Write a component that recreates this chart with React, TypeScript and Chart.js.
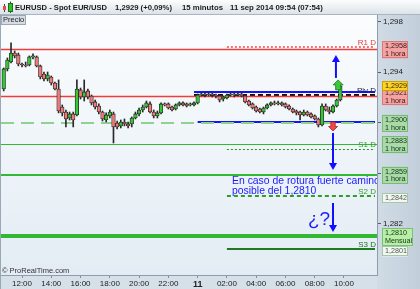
import React, { useEffect, useRef } from 'react';
import { Chart, registerables } from 'chart.js';

Chart.register(...registerables);

const FONT = '"Liberation Sans", Arial, sans-serif';

// ---- time axis (hours counted from 10 sep 00:00) ----
const FIRST_CANDLE_HOUR = 10.75; // 10 sep 10:45, 15-minute candles
const CANDLE_STEP_HOURS = 0.25;
const X_MIN = 10.565;
const X_MAX = 36.255;
const xTickHours = [12, 14, 16, 18, 20, 22, 24, 26, 28, 30, 32, 34];

// ---- price axis ----
const Y_MIN = 1.27795;
const Y_MAX = 1.29853;
const yTickValues = [1.282, 1.286, 1.29, 1.294, 1.298];

// ---- EUR/USD 15-minute candles ----
const opens = [
  1.29267, 1.29426, 1.29481, 1.29552, 1.29537, 1.29465, 1.29457, 1.29457, 1.29521, 1.29521,
  1.2945, 1.29386, 1.29347, 1.29362, 1.29315, 1.29267, 1.29125, 1.29085, 1.29038, 1.2907,
  1.29062, 1.2926, 1.29204, 1.29252, 1.29212, 1.29165, 1.29133, 1.29085, 1.29022, 1.29054,
  1.2907, 1.28998, 1.28975, 1.29006, 1.2899, 1.2899, 1.29038, 1.2907, 1.29101, 1.29125,
  1.29149, 1.29085, 1.29054, 1.29078, 1.29149, 1.29149, 1.29125, 1.29109, 1.29141, 1.29157,
  1.29149, 1.29141, 1.29141, 1.29157, 1.2922, 1.29228, 1.2922, 1.29228, 1.2922, 1.29212,
  1.29188, 1.29196, 1.2922, 1.29228, 1.2922, 1.29228, 1.29212, 1.29172, 1.29149, 1.29125,
  1.29109, 1.29085, 1.29117, 1.29141, 1.29157, 1.29149, 1.29157, 1.29149, 1.29133, 1.29109,
  1.29093, 1.29085, 1.29062, 1.29085, 1.2907, 1.29054, 1.2903, 1.28983, 1.29133, 1.29101,
  1.29085, 1.29133, 1.2918,
];
const highs = [
  1.29434, 1.29513, 1.29632, 1.29568, 1.29552, 1.29473, 1.29481, 1.29529, 1.29545, 1.29529,
  1.29457, 1.29402, 1.29402, 1.2937, 1.29323, 1.29339, 1.29141, 1.29101, 1.29085, 1.29085,
  1.29339, 1.29275, 1.29339, 1.29267, 1.2922, 1.2918, 1.29149, 1.29093, 1.29078, 1.29101,
  1.29085, 1.29014, 1.29022, 1.2903, 1.29006, 1.29046, 1.29085, 1.29117, 1.29141, 1.29172,
  1.29165, 1.29101, 1.29093, 1.29157, 1.29157, 1.29157, 1.29133, 1.29149, 1.29165, 1.29165,
  1.29157, 1.29157, 1.29165, 1.29228, 1.29236, 1.29236, 1.29236, 1.29236, 1.29228, 1.2922,
  1.29212, 1.29228, 1.29236, 1.29236, 1.29236, 1.29236, 1.2922, 1.2918, 1.29157, 1.29133,
  1.29117, 1.29125, 1.29149, 1.29165, 1.29172, 1.29172, 1.29165, 1.29157, 1.29141, 1.29117,
  1.29101, 1.29093, 1.29101, 1.29093, 1.29078, 1.29062, 1.29038, 1.29149, 1.29149, 1.29125,
  1.29141, 1.29188, 1.29307,
];
const lows = [
  1.29252, 1.2941, 1.29473, 1.29513, 1.2945, 1.29442, 1.29442, 1.2945, 1.29505, 1.29442,
  1.29347, 1.29331, 1.29331, 1.29299, 1.2926, 1.29078, 1.29054, 1.28967, 1.29022, 1.28967,
  1.29054, 1.29188, 1.29172, 1.29188, 1.29141, 1.29109, 1.2907, 1.29014, 1.29006, 1.29038,
  1.2884, 1.28951, 1.28959, 1.28975, 1.28959, 1.28967, 1.2903, 1.29054, 1.29085, 1.29117,
  1.29078, 1.29038, 1.29038, 1.2907, 1.29133, 1.29109, 1.29093, 1.29101, 1.29133, 1.29133,
  1.29125, 1.29133, 1.29133, 1.29149, 1.29212, 1.29204, 1.29212, 1.29204, 1.29196, 1.29165,
  1.29172, 1.29188, 1.29212, 1.29204, 1.29212, 1.29204, 1.29157, 1.29133, 1.29109, 1.29085,
  1.29078, 1.2907, 1.29109, 1.29133, 1.29141, 1.29141, 1.29133, 1.29117, 1.29101, 1.29078,
  1.29062, 1.29022, 1.29054, 1.29054, 1.29038, 1.29022, 1.28967, 1.28975, 1.29093, 1.2907,
  1.29078, 1.29125, 1.29172,
];
const closes = [
  1.29426, 1.29497, 1.29552, 1.29529, 1.29465, 1.29457, 1.2945, 1.29521, 1.29529, 1.2945,
  1.29362, 1.29347, 1.29378, 1.29315, 1.29267, 1.29093, 1.29078, 1.2903, 1.2907, 1.29022,
  1.29267, 1.29204, 1.29244, 1.29204, 1.29157, 1.29125, 1.29085, 1.2903, 1.29062, 1.29085,
  1.28967, 1.28967, 1.29006, 1.2899, 1.28975, 1.29038, 1.2907, 1.29101, 1.29125, 1.29157,
  1.29085, 1.29054, 1.29078, 1.29149, 1.29141, 1.29117, 1.29101, 1.29141, 1.29157, 1.29141,
  1.29133, 1.29149, 1.29157, 1.2922, 1.29228, 1.2922, 1.29228, 1.2922, 1.29212, 1.2918,
  1.29204, 1.2922, 1.29228, 1.2922, 1.29228, 1.29212, 1.29165, 1.29141, 1.29117, 1.29093,
  1.29085, 1.29117, 1.29141, 1.29157, 1.29149, 1.29157, 1.29141, 1.29125, 1.29109, 1.29085,
  1.29078, 1.29062, 1.29085, 1.29062, 1.29046, 1.2903, 1.28983, 1.29133, 1.29101, 1.29085,
  1.29133, 1.2918, 1.2929,
];

// ---- horizontal levels (value, start hour or null = whole chart) ----
const levelValues = [1.2958, 1.296, 1.2924, 1.2922, 1.2921, 1.2901, 1.29, 1.2883, 1.2879, 1.2859, 1.2842, 1.281, 1.28];
const levelStartHours = [null, 26, 23.75, 23.75, null, 24, null, null, 26, null, 26, null, 26];

// ---- daily pivot tags ----
const pivotLabels = ['R1 D', 'Piv D', 'S1 D', 'S2 D', 'S3 D'];
const pivotValues = [1.296, 1.2922, 1.2879, 1.2842, 1.28];

// ---- right-axis price tags ----
const tagValues = [1.2958, 1.2929, 1.2921, 1.29, 1.2883, 1.2859, 1.2842, 1.281, 1.2801];
const tagNotes = ['1 hora', '', '1 hora', '1 hora', '1 hora', '1 hora', '', 'Mensual', ''];
const tagKinds = ['red', 'price', 'red', 'green', 'green', 'green', 'plain', 'monthly', 'plain'];

// ---- drawn annotations (data coordinates) ----
const blueArrowHours = [33.45, 33.25, 33.25];
const blueArrowFrom = [1.29355, 1.28919, 1.28365];
const blueArrowTo = [1.29537, 1.28626, 1.28135];
const upMarker = [33.6, 1.29339, 1.2926]; // hour, top, bottom
const downMarker = [33.25, 1.29006, 1.28935];
const noteLines = ['En caso de rotura fuerte camino', 'posible del 1,2810'];
const noteHour = 26.35;
const noteValues = [1.28539, 1.28455];
const questionText = '¿?';
const questionHour = 31.54;
const questionValue = 1.28191;

// ---- header ----
const titleParts = ['EURUSD - Spot EUR/USD', '1,2929 (+0,09%)', '15 minutos', '11 sep 2014 09:54 (07:54)'];

// ---------- styles (not data) ----------
const LEVEL_STYLES = [
  { color: '#f23c3c', width: 1.4, dash: [] as number[] },
  { color: '#f05252', width: 1.6, dash: [2, 2], under: '#ffffff' },
  { color: '#1414ff', width: 2, dash: [] },
  { color: '#111111', width: 2, dash: [5, 3], under: '#ffffff' },
  { color: '#f23c3c', width: 1.4, dash: [] },
  { color: '#1414ff', width: 2, dash: [] },
  { color: '#90d090', width: 2, dash: [13, 7] },
  { color: '#33b833', width: 1, dash: [] },
  { color: '#2e8b2e', width: 1, dash: [2, 2] },
  { color: '#33b833', width: 2, dash: [] },
  { color: '#2e9e2e', width: 2, dash: [4, 3] },
  { color: '#33b833', width: 4, dash: [] },
  { color: '#1f7a1f', width: 2, dash: [] },
];
const PIVOT_COLORS = ['#e83c3c', '#22223a', '#2f9a2f', '#2f9a2f', '#1f6e1f'];
const TAG_STYLE: Record<string, { fill: string; stroke: string; text: string }> = {
  red: { fill: '#f4a2a2', stroke: '#d97a7a', text: '#3a1616' },
  price: { fill: '#ffd31f', stroke: '#c9a100', text: '#1e1e1e' },
  green: { fill: '#a8dba8', stroke: '#78b878', text: '#163016' },
  monthly: { fill: '#b8efa6', stroke: '#7cbf7c', text: '#163016' },
  plain: { fill: '#f2f7f2', stroke: '#a6c6a6', text: '#4c5a4c' },
};

function fmtHour(v: number) {
  if (v === 24) return '11';
  const h = ((v % 24) + 24) % 24;
  return String(h).padStart(2, '0') + ':00';
}

function snap(y: number, w: number) {
  const r = Math.round(w);
  return r % 2 === 1 ? Math.floor(y) + 0.5 : Math.round(y);
}

const backgroundPlugin = {
  id: 'backgrounds',
  beforeDraw(chart: any) {
    const { ctx, chartArea: a, width, height } = chart;
    ctx.save();
    ctx.fillStyle = '#d4dee7';
    ctx.fillRect(0, 0, width, height);
    const g = ctx.createLinearGradient(0, a.top, 0, a.bottom);
    g.addColorStop(0, '#fbfdfe');
    g.addColorStop(1, '#e3ecf4');
    ctx.fillStyle = g;
    ctx.fillRect(a.left, a.top, a.right - a.left, a.bottom - a.top);
    const g2 = ctx.createLinearGradient(a.right, 0, width, 0);
    g2.addColorStop(0, '#d0dbe5');
    g2.addColorStop(1, '#c2cfdb');
    ctx.fillStyle = g2;
    ctx.fillRect(a.right, a.top, width - a.right, height - a.top);
    ctx.fillStyle = '#d6e0e9';
    ctx.fillRect(0, a.bottom, a.right, height - a.bottom);
    ctx.strokeStyle = '#9aa8b5';
    ctx.lineWidth = 1;
    ctx.beginPath();
    ctx.moveTo(0.5, a.top);
    ctx.lineTo(0.5, height);
    ctx.stroke();
    ctx.restore();
  },
};

const levelsPlugin = {
  id: 'levels',
  beforeDatasetsDraw(chart: any) {
    const { ctx, chartArea: a, scales } = chart;
    ctx.save();
    ctx.beginPath();
    ctx.rect(a.left, a.top, a.right - a.left, a.bottom - a.top);
    ctx.clip();
    levelValues.forEach((v, i) => {
      const st: any = LEVEL_STYLES[i];
      const y = snap(scales.y.getPixelForValue(v), st.width);
      const s = levelStartHours[i];
      const x0 = s == null ? a.left : scales.x.getPixelForValue(s);
      const x1 = s == null ? a.right : a.right - 2;
      if (st.under) {
        ctx.setLineDash([]);
        ctx.strokeStyle = st.under;
        ctx.lineWidth = st.width;
        ctx.beginPath();
        ctx.moveTo(x0, y);
        ctx.lineTo(x1, y);
        ctx.stroke();
      }
      ctx.setLineDash(st.dash);
      ctx.strokeStyle = st.color;
      ctx.lineWidth = st.width;
      ctx.beginPath();
      ctx.moveTo(x0, y);
      ctx.lineTo(x1, y);
      ctx.stroke();
    });
    ctx.restore();
  },
};

function blueArrow(ctx: CanvasRenderingContext2D, x: number, y0: number, y1: number) {
  const dir = y1 < y0 ? -1 : 1;
  ctx.strokeStyle = '#1010ff';
  ctx.fillStyle = '#1010ff';
  ctx.lineWidth = 2;
  ctx.beginPath();
  ctx.moveTo(x, y0);
  ctx.lineTo(x, y1 - dir * 5);
  ctx.stroke();
  ctx.beginPath();
  ctx.moveTo(x, y1);
  ctx.lineTo(x - 4, y1 - dir * 7);
  ctx.lineTo(x + 4, y1 - dir * 7);
  ctx.closePath();
  ctx.fill();
}

function blockArrow(ctx: CanvasRenderingContext2D, x: number, yTop: number, yBot: number, up: boolean, fill: string, stroke: string) {
  const h = yBot - yTop;
  const head = h * 0.5;
  ctx.beginPath();
  if (up) {
    ctx.moveTo(x, yTop);
    ctx.lineTo(x + 5, yTop + head);
    ctx.lineTo(x + 2.5, yTop + head);
    ctx.lineTo(x + 2.5, yBot);
    ctx.lineTo(x - 2.5, yBot);
    ctx.lineTo(x - 2.5, yTop + head);
    ctx.lineTo(x - 5, yTop + head);
  } else {
    ctx.moveTo(x, yBot);
    ctx.lineTo(x + 4.5, yBot - head);
    ctx.lineTo(x + 2.2, yBot - head);
    ctx.lineTo(x + 2.2, yTop);
    ctx.lineTo(x - 2.2, yTop);
    ctx.lineTo(x - 2.2, yBot - head);
    ctx.lineTo(x - 4.5, yBot - head);
  }
  ctx.closePath();
  ctx.fillStyle = fill;
  ctx.fill();
  ctx.strokeStyle = stroke;
  ctx.lineWidth = 0.8;
  ctx.stroke();
}

const annotationsPlugin = {
  id: 'annotations',
  afterDatasetsDraw(chart: any) {
    const { ctx, chartArea: a, scales } = chart;
    const X = (h: number) => scales.x.getPixelForValue(h);
    const Y = (v: number) => scales.y.getPixelForValue(v);
    ctx.save();
    ctx.beginPath();
    ctx.rect(a.left, a.top, a.right - a.left, a.bottom - a.top);
    ctx.clip();

    // pivot tags
    ctx.font = `8px ${FONT}`;
    ctx.textAlign = 'right';
    ctx.textBaseline = 'middle';
    pivotLabels.forEach((t, i) => {
      ctx.fillStyle = PIVOT_COLORS[i];
      ctx.fillText(t, a.right - 1, Y(pivotValues[i]) - 4.5);
    });

    blueArrowHours.forEach((h, i) => blueArrow(ctx, X(h), Y(blueArrowFrom[i]), Y(blueArrowTo[i])));
    blockArrow(ctx, X(upMarker[0]), Y(upMarker[1]), Y(upMarker[2]), true, '#3cc83c', '#1e7a1e');
    blockArrow(ctx, X(downMarker[0]), Y(downMarker[1]), Y(downMarker[2]), false, '#f04848', '#a82020');

    ctx.textAlign = 'left';
    ctx.fillStyle = '#1a1aff';
    ctx.font = `10.4px ${FONT}`;
    noteLines.forEach((t, i) => ctx.fillText(t, X(noteHour), Y(noteValues[i])));
    ctx.font = `19px ${FONT}`;
    ctx.textBaseline = 'alphabetic';
    ctx.fillText(questionText, X(questionHour), Y(questionValue));
    ctx.restore();
  },
};

const chromePlugin = {
  id: 'chrome',
  afterDraw(chart: any) {
    const { ctx, chartArea: a, scales, width } = chart;
    ctx.save();

    // right-axis price tags
    const placed: any[] = [];
    let prevBottom = -Infinity;
    tagValues.forEach((v, i) => {
      const kind = tagKinds[i];
      const two = tagNotes[i] !== '';
      const py = scales.y.getPixelForValue(v);
      const h = kind === 'monthly' ? 18 : two ? 17 : 10;
      let top = kind === 'plain' ? py - 3 : two ? py - 8 : py - 5;
      if (kind !== 'price') {
        top = Math.max(top, prevBottom);
        prevBottom = top + h;
      }
      placed.push({ i, top, h, kind, two });
    });
    const drawTag = (p: any) => {
      const st = TAG_STYLE[p.kind];
      const w = p.kind === 'monthly' ? 31 : 26;
      const x = a.right + 5;
      ctx.fillStyle = st.fill;
      ctx.fillRect(x, p.top, w, p.h);
      ctx.strokeStyle = st.stroke;
      ctx.lineWidth = 1;
      ctx.strokeRect(Math.round(x) + 0.5, Math.round(p.top) + 0.5, w - 1, Math.round(p.h) - 1);
      ctx.fillStyle = st.text;
      ctx.font = `7.2px ${FONT}`;
      ctx.textAlign = 'left';
      ctx.textBaseline = 'middle';
      ctx.fillText(tagValues[p.i].toFixed(4).replace('.', ','), x + 3, p.top + 5);
      if (p.two) ctx.fillText(tagNotes[p.i], x + 3, p.top + 12.8);
    };
    placed.filter((p) => p.kind !== 'price').forEach(drawTag);
    placed.filter((p) => p.kind === 'price').forEach(drawTag);

    // title bar
    const tg = ctx.createLinearGradient(0, 0, 0, 14);
    tg.addColorStop(0, '#fcfdfd');
    tg.addColorStop(1, '#dce3e9');
    ctx.fillStyle = tg;
    ctx.fillRect(0, 0, width, 14);
    ctx.strokeStyle = '#a9b5c0';
    ctx.beginPath();
    ctx.moveTo(0, 14.5);
    ctx.lineTo(width, 14.5);
    ctx.stroke();
    // candle icon
    ctx.strokeStyle = '#444';
    ctx.lineWidth = 1;
    ctx.beginPath();
    ctx.moveTo(4.5, 4);
    ctx.lineTo(4.5, 12);
    ctx.moveTo(10.5, 1.5);
    ctx.lineTo(10.5, 13);
    ctx.stroke();
    ctx.fillStyle = '#e05050';
    ctx.fillRect(3, 6, 3, 4);
    ctx.fillStyle = '#2fbf2f';
    ctx.fillRect(8.5, 3.5, 4, 8);
    ctx.strokeStyle = '#1d6e1d';
    ctx.strokeRect(8.5, 3.5, 4, 8);

    ctx.fillStyle = '#1b1b1b';
    ctx.font = `bold 7.8px ${FONT}`;
    ctx.textAlign = 'left';
    ctx.textBaseline = 'middle';
    const tx = [15, 115, 182, 230];
    const tw = [92, 57, 41, 93];
    titleParts.forEach((t, i) => ctx.fillText(t, tx[i], 7.5, tw[i]));

    // "Precio" tab
    ctx.fillStyle = '#d5dce3';
    ctx.fillRect(1.5, 15.5, 24, 9);
    ctx.strokeStyle = '#9ca8b4';
    ctx.strokeRect(1.5, 15.5, 24, 9);
    ctx.fillStyle = '#222';
    ctx.font = `7.5px ${FONT}`;
    ctx.fillText('Precio', 3, 20.2);

    // watermark
    ctx.fillStyle = '#333';
    ctx.font = `7.5px ${FONT}`;
    ctx.fillText('© ProRealTime.com', 2, 271);
    ctx.restore();
  },
};

export default function App() {
  const ref = useRef<HTMLCanvasElement | null>(null);
  useEffect(() => {
    if (!ref.current) return;
    const hours = opens.map((_, i) => FIRST_CANDLE_HOUR + CANDLE_STEP_HOURS * i);
    const bodies = opens.map((o, i) => ({ x: hours[i], y: [o, closes[i]] }));
    const wicks = opens.map((_, i) => ({ x: hours[i], y: [lows[i], highs[i]] }));
    const colors = opens.map((o, i) => (closes[i] >= o ? '#36c636' : '#f07a7a'));
    const chart = new Chart(ref.current, {
      type: 'bar',
      data: {
        datasets: [
          {
            data: bodies as any,
            backgroundColor: colors,
            borderColor: '#262626',
            borderWidth: 0.8,
            borderSkipped: false,
            barThickness: 3.6,
            grouped: false,
          } as any,
          {
            data: wicks as any,
            backgroundColor: '#2a2a2a',
            borderWidth: 0,
            barThickness: 1,
            grouped: false,
          } as any,
        ],
      },
      options: {
        responsive: false,
        animation: false,
        devicePixelRatio: 1,
        events: [],
        layout: { padding: { top: 15, left: 1, right: 0, bottom: 0 } },
        plugins: { legend: { display: false }, tooltip: { enabled: false } },
        scales: {
          x: {
            type: 'linear',
            min: X_MIN,
            max: X_MAX,
            offset: false,
            grid: { drawOnChartArea: false, drawTicks: true, tickLength: 3, color: '#7d8d9c', offset: false },
            border: { display: true, color: '#8d9dac' },
            ticks: {
              autoSkip: false,
              maxRotation: 0,
              padding: 1,
              color: '#222',
              font: (c: any) =>
                c.tick && c.tick.value === 24
                  ? { size: 9, weight: 'bold', family: FONT }
                  : { size: 8, family: FONT },
              callback: (v: any) => fmtHour(Number(v)),
            },
            afterBuildTicks: (s: any) => {
              s.ticks = xTickHours.map((v) => ({ value: v }));
            },
            afterFit: (s: any) => {
              s.height = 14;
            },
          } as any,
          y: {
            type: 'linear',
            position: 'right',
            min: Y_MIN,
            max: Y_MAX,
            grid: { drawOnChartArea: false, tickLength: 4, color: '#55606b' },
            border: { display: true, color: '#8d9dac' },
            ticks: {
              padding: 2,
              color: '#222',
              font: { size: 8, family: FONT },
              callback: (v: any) => Number(v).toFixed(3).replace('.', ','),
            },
            afterBuildTicks: (s: any) => {
              s.ticks = yTickValues.map((v) => ({ value: v }));
            },
            afterFit: (s: any) => {
              s.width = 43;
            },
          } as any,
        },
      },
      plugins: [backgroundPlugin, levelsPlugin, annotationsPlugin, chromePlugin],
    });
    return () => chart.destroy();
  }, []);
  return (
    <div style={{ position: 'absolute', left: 0, top: 0, width: 420, height: 289 }}>
      <canvas ref={ref} width={420} height={289} style={{ display: 'block', width: 420, height: 289 }} />
    </div>
  );
}
